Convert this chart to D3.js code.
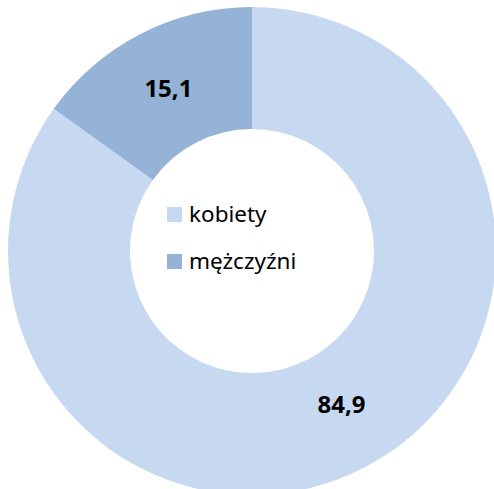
<!DOCTYPE html>
<html>
<head>
<meta charset="utf-8">
<script src="https://cdn.jsdelivr.net/npm/d3@7"></script>
<style>
  html, body { margin: 0; padding: 0; background: #fff; }
  svg { display: block; }
</style>
</head>
<body>
<svg id="chart"></svg>
<script>
var categories = ["kobiety", "mężczyźni"];
var values = [84.9, 15.1];
var valueLabels = ["84,9", "15,1"];
var colors = ["#C6D9F0", "#95B3D7"];

var width = 494;
var height = 489;
var cx = 252, cy = 251;
var outerRadius = 244;
var innerRadius = 122;

var svg = d3.select("#chart")
  .attr("width", width)
  .attr("height", height);

var color = d3.scaleOrdinal().domain(categories).range(colors);

var pie = d3.pie().sort(null).value(function (d) { return d.value; });
var arc = d3.arc().innerRadius(innerRadius).outerRadius(outerRadius);

var data = categories.map(function (c, i) {
  return { name: c, value: values[i], label: valueLabels[i] };
});

var g = svg.append("g")
  .attr("transform", "translate(" + cx + "," + cy + ")");

var slices = g.selectAll("g.slice")
  .data(pie(data))
  .enter()
  .append("g")
  .attr("class", "slice");

slices.append("path")
  .attr("d", arc)
  .style("fill", function (d) { return color(d.data.name); });

slices.append("text")
  .attr("transform", function (d) {
    var c = arc.centroid(d);
    // excel nudges the big label a bit up / right
    if (d.index === 0) { c[0] += 6; c[1] -= 9; }
    return "translate(" + c[0] + "," + c[1] + ")";
  })
  .attr("text-anchor", "middle")
  .attr("dy", "0.36em")
  .style("font-family", "'Noto Sans', sans-serif")
  .style("font-weight", "bold")
  .style("font-size", "24px")
  .style("fill", "#000")
  .text(function (d) { return d.data.label; });

// legend in the hole
var legend = svg.append("g")
  .attr("transform", "translate(167,207)");

var item = legend.selectAll("g.item")
  .data(categories)
  .enter()
  .append("g")
  .attr("class", "item")
  .attr("transform", function (d, i) { return "translate(0," + i * 47 + ")"; });

item.append("rect")
  .attr("width", 15)
  .attr("height", 15)
  .style("fill", function (d) { return color(d); });

item.append("text")
  .attr("x", 22)
  .attr("y", 15)
  .style("font-family", "'Noto Sans', sans-serif")
  .style("font-size", "22.5px")
  .style("fill", "#000")
  .text(function (d) { return d; });
</script>
</body>
</html>
